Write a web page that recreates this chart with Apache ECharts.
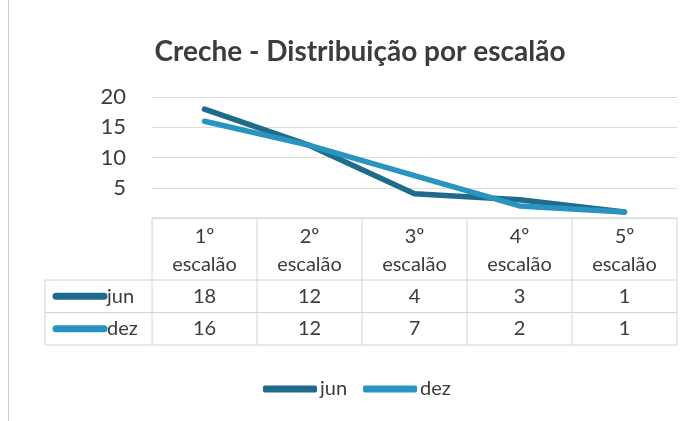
<!DOCTYPE html>
<html><head><meta charset="utf-8">
<script src="https://cdn.jsdelivr.net/npm/echarts@6/dist/echarts.min.js"></script>
<style>html,body{margin:0;padding:0;background:#fff}#c{width:695px;height:421px}</style>
</head><body><div id="c"></div>
<script>
const title = 'Creche - Distribuição por escalão';
const categories = ['1º\nescalão', '2º\nescalão', '3º\nescalão', '4º\nescalão', '5º\nescalão'];
const seriesNames = ['jun', 'dez'];
const jun = [18, 12, 4, 3, 1];
const dez = [16, 12, 7, 2, 1];
const colors = ['#1f6b8b', '#2a94c0'];
const yTicks = [0, 5, 10, 15, 20];

const FONT = 'Lato';
const TXT = '#3c3c3c';
const LINE = '#d4d4d4';

const chart = echarts.init(document.getElementById('c'));
const option = {
  backgroundColor: '#fff',
  animation: false,
  title: { text: title, left: 355, textAlign: 'center', top: 33, textStyle: { fontFamily: FONT, fontSize: 28, fontWeight: 'bold', color: TXT } },
  grid: { left: 152, right: 18, top: 97, bottom: 203 },
  xAxis: { type: 'category', data: categories, boundaryGap: true,
    axisLine: { show: false }, axisTick: { show: false }, axisLabel: { show: false }, splitLine: { show: false } },
  yAxis: { type: 'value', min: yTicks[0], max: yTicks[yTicks.length - 1], interval: 5,
    axisLine: { show: false }, axisTick: { show: false },
    axisLabel: { margin: 26, fontFamily: FONT, fontSize: 22, color: TXT, formatter: v => v === 0 ? '' : String(v) },
    splitLine: { lineStyle: { color: '#dcdcdc', width: 1 } } },
  legend: { bottom: 17, left: 258, itemWidth: 54, itemHeight: 7, itemGap: 16, icon: 'roundRect',
    textStyle: { fontFamily: FONT, fontSize: 20, color: TXT, padding: [0, 0, 0, -2] },
    data: seriesNames },
  series: [
    { name: seriesNames[0], type: 'line', data: jun, showSymbol: false, symbol: 'none', color: colors[0],
      lineStyle: { width: 5.5, color: colors[0], cap: 'round', join: 'round' } },
    { name: seriesNames[1], type: 'line', data: dez, showSymbol: false, symbol: 'none', color: colors[1],
      lineStyle: { width: 5.5, color: colors[1], cap: 'round', join: 'round' } }
  ]
};
chart.setOption(option);

// Data table under the plot, positioned from the axis scales
const rows = [jun, dez];
const centers = categories.map((c, i) => chart.convertToPixel({ xAxisIndex: 0 }, i));
const band = centers[1] - centers[0];
const y0 = chart.convertToPixel({ yAxisIndex: 0 }, 0);
const xL = centers[0] - band / 2;
const xR = centers[centers.length - 1] + band / 2;
const headerH = 62, rowH = 32.5;
const keyL = 45;
const g = [];
const ln = (x1, y1, x2, y2) => g.push({ type: 'line', shape: { x1, y1, x2, y2 }, style: { stroke: LINE, lineWidth: 1 }, silent: true });
// outer chart left border
g.push({ type: 'line', shape: { x1: 8.5, y1: 0, x2: 8.5, y2: 421 }, style: { stroke: '#cfcfcf', lineWidth: 1 } });
const yH = y0 + headerH;
const yEnd = yH + rowH * rows.length;
ln(xL, y0, xR, y0);
for (let r = 0; r <= rows.length; r++) ln(keyL, yH + r * rowH, xR, yH + r * rowH);
ln(keyL, yH, keyL, yEnd);
for (let i = 0; i <= centers.length; i++) { const x = xL + i * band; ln(x, y0, x, yEnd); }
categories.forEach((c, i) => {
  const parts = c.split('\n');
  parts.forEach((p, k) => g.push({ type: 'text', x: centers[i], y: y0 + 19 + k * 28,
    style: { text: p, fill: TXT, font: '20px ' + FONT, textAlign: 'center', textVerticalAlign: 'middle' } }));
});
rows.forEach((vals, r) => {
  const yc = yH + r * rowH + rowH / 2;
  g.push({ type: 'line', shape: { x1: 56, y1: yc, x2: 104, y2: yc }, style: { stroke: colors[r], lineWidth: 7, lineCap: 'round' } });
  g.push({ type: 'text', x: 107, y: yc, style: { text: seriesNames[r], fill: TXT, font: '20px ' + FONT, textAlign: 'left', textVerticalAlign: 'middle' } });
  vals.forEach((v, i) => g.push({ type: 'text', x: centers[i], y: yc,
    style: { text: String(v), fill: TXT, font: '20px ' + FONT, textAlign: 'center', textVerticalAlign: 'middle' } }));
});
chart.setOption({ graphic: g });
</script></body></html>
